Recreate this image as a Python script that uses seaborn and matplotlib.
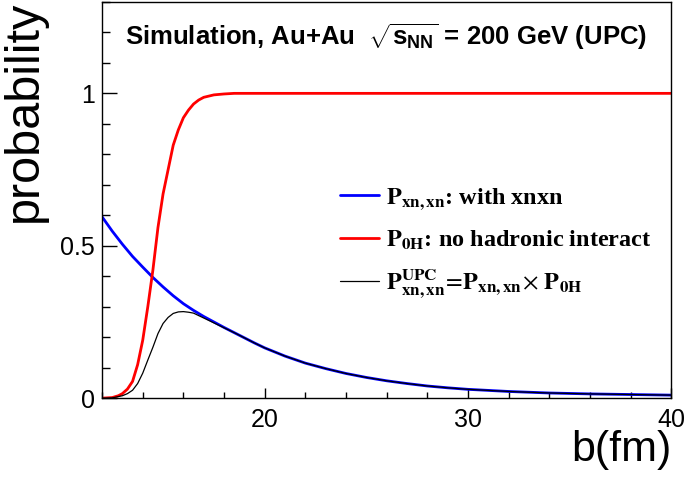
import numpy as np
import pandas as pd
import seaborn as sns
import matplotlib.pyplot as plt
from matplotlib.font_manager import FontProperties
from matplotlib.ticker import MultipleLocator

# values
b_blue = [12.0, 12.5, 13.0, 13.5, 14.0, 14.5, 15.0, 15.5, 16.0, 16.5, 17.0, 17.5,
          18.0, 18.5, 19.0, 19.5, 20.0, 21.0, 22.0, 23.0, 24.0, 25.0, 26.0, 27.0,
          28.0, 29.0, 30.0, 32.0, 34.0, 36.0, 38.0, 40.0]
p_xnxn = [0.595, 0.548, 0.505, 0.465, 0.430, 0.396, 0.365, 0.336, 0.310, 0.288, 0.268, 0.250,
          0.232, 0.215, 0.198, 0.181, 0.165, 0.138, 0.115, 0.097, 0.081, 0.068, 0.057, 0.048,
          0.040, 0.034, 0.029, 0.022, 0.017, 0.014, 0.012, 0.010]

b_red = [12.0, 12.5, 12.8, 13.0, 13.25, 13.5, 13.75, 14.0, 14.25, 14.5, 14.75, 15.0,
         15.25, 15.5, 15.75, 16.0, 16.25, 16.5, 16.75, 17.0, 17.5, 18.0, 18.5, 19.0, 40.0]
p_0h = [0.0, 0.002, 0.008, 0.015, 0.03, 0.055, 0.11, 0.19, 0.30, 0.42, 0.56, 0.67,
        0.75, 0.83, 0.88, 0.92, 0.945, 0.965, 0.978, 0.987, 0.995, 0.998, 1.0, 1.0, 1.0]

b_black = [12.0, 12.5, 13.0, 13.25, 13.5, 13.75, 14.0, 14.25, 14.5, 14.75, 15.0, 15.25,
           15.5, 15.75, 16.0, 16.25, 16.5, 17.0, 17.5, 18.0, 18.5, 19.0, 19.5, 20.0,
           21.0, 22.0, 23.0, 24.0, 25.0, 26.0, 27.0, 28.0, 29.0, 30.0, 32.0, 34.0,
           36.0, 38.0, 40.0]
p_upc = [0.0, 0.001, 0.008, 0.015, 0.026, 0.048, 0.082, 0.125, 0.167, 0.212, 0.245, 0.265,
         0.278, 0.283, 0.284, 0.282, 0.279, 0.263, 0.247, 0.231, 0.215, 0.198, 0.181, 0.165,
         0.138, 0.115, 0.097, 0.081, 0.068, 0.057, 0.048, 0.040, 0.034, 0.029, 0.022, 0.017,
         0.014, 0.012, 0.010]

sns.set_style('ticks')
plt.rcParams['font.family'] = ['Liberation Sans', 'DejaVu Sans']
plt.rcParams['mathtext.fontset'] = 'custom'
plt.rcParams['mathtext.rm'] = 'Liberation Sans:bold'
plt.rcParams['mathtext.it'] = 'Liberation Sans:bold'
plt.rcParams['mathtext.bf'] = 'Liberation Sans:bold'
plt.rcParams['text.color'] = 'black'
plt.rcParams['xtick.color'] = 'black'
plt.rcParams['ytick.color'] = 'black'
plt.rcParams['axes.labelcolor'] = 'black'

fig = plt.figure(figsize=(6.85, 4.78), dpi=100)
ax = fig.add_axes([0.149, 0.167, 0.831, 0.829])

sns.lineplot(x=b_blue, y=p_xnxn, color='#0000ff', lw=2.0, ax=ax,
             label=r'$\mathbf{P}_{\mathbf{xn,xn}}$: with xnxn')
sns.lineplot(x=b_red, y=p_0h, color='#ff0000', lw=2.0, ax=ax,
             label=r'$\mathbf{P}_{\mathbf{0H}}$: no hadronic interact')
sns.lineplot(x=b_black, y=p_upc, color='black', lw=0.9, ax=ax,
             label=r'$\mathbf{P}^{\mathbf{UPC}}_{\mathbf{xn,xn}}\!=\!\mathbf{P}_{\mathbf{xn,xn}}\!\times\,\mathbf{P}_{\mathbf{0H}}$')

ax.set_xlim(12, 40)
ax.set_ylim(0, 1.3)
ax.xaxis.set_major_locator(MultipleLocator(10))
ax.xaxis.set_minor_locator(MultipleLocator(2))
ax.yaxis.set_major_locator(MultipleLocator(0.5))
ax.yaxis.set_minor_locator(MultipleLocator(0.1))
ax.set_yticks([0, 0.5, 1])
ax.set_yticklabels(['0', '0.5', '1'])
ax.set_xticks([20, 30, 40])
ax.set_xticklabels(['20', '30', '40'])
ax.tick_params(which='both', direction='in', top=False, right=False, labelsize=18,
               width=1, color='black', labelcolor='black')
ax.tick_params(which='major', axis='y', length=11, pad=5)
ax.tick_params(which='minor', axis='y', length=5.5)
ax.tick_params(which='major', axis='x', length=7, pad=7)
ax.tick_params(which='minor', axis='x', length=4)
for s in ax.spines.values():
    s.set_visible(True)
    s.set_linewidth(1)
    s.set_color('black')

ax.set_xlabel('b(fm)', fontsize=31, loc='right')
ax.xaxis.set_label_coords(1.0, -0.08)
ax.set_ylabel('probability', fontsize=35, loc='top')
ax.yaxis.set_label_coords(-0.097, 1.003)

ax.text(0.04, 0.912, r'Simulation, Au+Au  $\sqrt{s_{NN}}$ = 200 GeV (UPC)',
        transform=ax.transAxes, va='center', ha='left',
        fontproperties=FontProperties(family='Liberation Sans', weight='bold', size=18.5,
                                      math_fontfamily='custom'))

leg_font = FontProperties(family='Liberation Serif', weight='bold', size=17.5, math_fontfamily='stix')
ax.legend(loc='upper left', bbox_to_anchor=(0.418, 0.535), frameon=False, prop=leg_font,
          borderpad=0, borderaxespad=0, handlelength=1.6, handletextpad=0.3, labelspacing=0.68)

fig.savefig('out.png', dpi=100)
